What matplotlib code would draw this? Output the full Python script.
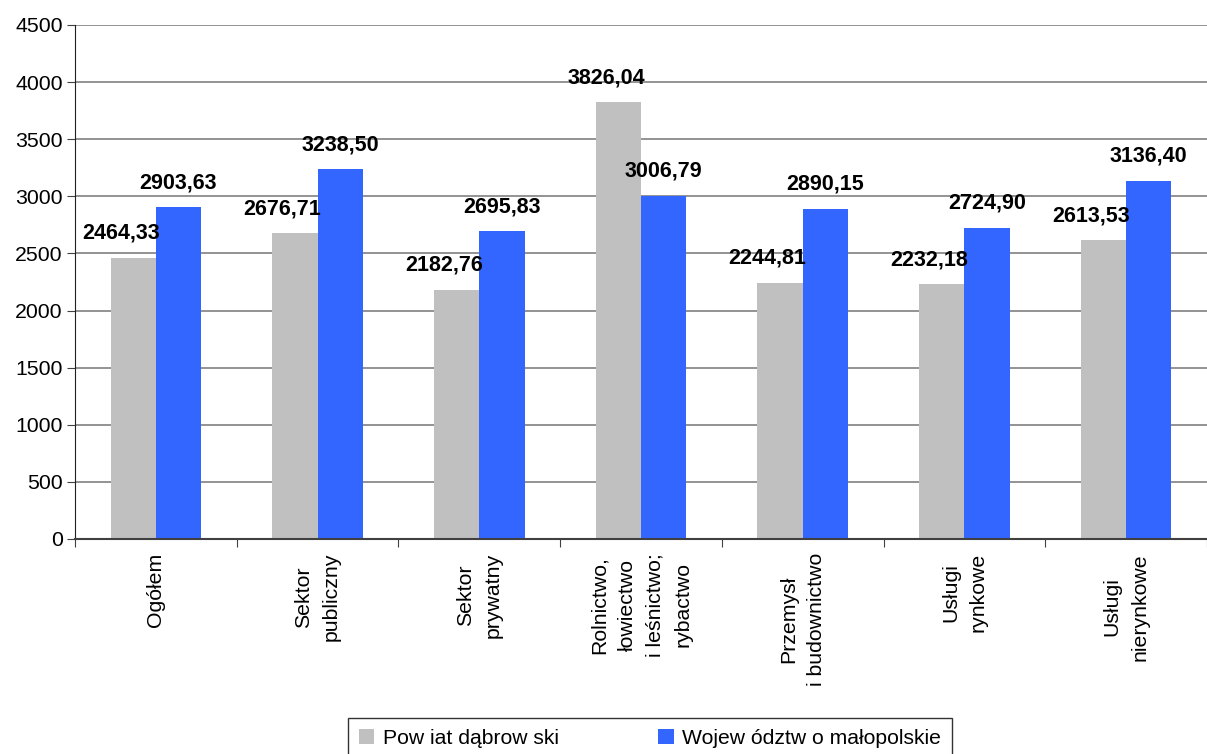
import numpy as np
import matplotlib
matplotlib.use('Agg')
import matplotlib.pyplot as plt

plt.rcParams['font.family'] = ['Liberation Sans', 'DejaVu Sans']

# data
categories = ['Ogółem', 'Sektor\npubliczny', 'Sektor\nprywatny',
              'Rolnictwo,\nłowiectwo\ni leśnictwo;\nrybactwo',
              'Przemysł\ni budownictwo', 'Usługi\nrynkowe', 'Usługi\nnierynkowe']
powiat = [2464.33, 2676.71, 2182.76, 3826.04, 2244.81, 2232.18, 2613.53]
wojew = [2903.63, 3238.50, 2695.83, 3006.79, 2890.15, 2724.90, 3136.40]
series_names = ['Pow iat dąbrow ski', 'Wojew ództw o małopolskie']

fig = plt.figure(figsize=(12.07, 7.54), dpi=100)
ax = fig.add_axes([75 / 1207, 1 - 539 / 754, 1 - 75 / 1207, (539 - 25) / 754])

x = np.arange(len(categories))
w = 0.28
b1 = ax.bar(x - w / 2, powiat, w, color='#C0C0C0', label=series_names[0], zorder=2)
b2 = ax.bar(x + w / 2, wojew, w, color='#3366FF', label=series_names[1], zorder=2)

def fmt(v):
    return f'{v:.2f}'.replace('.', ',')

for rect, v in zip(b1, powiat):
    ax.annotate(fmt(v), (rect.get_x() + rect.get_width() / 2, v),
                xytext=(-9, 10), textcoords='offset points',
                ha='center', va='bottom', fontsize=15.5, fontweight='bold')
for rect, v in zip(b2, wojew):
    ax.annotate(fmt(v), (rect.get_x() + rect.get_width() / 2, v),
                xytext=(0, 10), textcoords='offset points',
                ha='center', va='bottom', fontsize=15.5, fontweight='bold')

ax.set_ylim(0, 4500)
ax.set_yticks(np.arange(0, 4501, 500))
ax.set_xlim(-0.5, 6.445)
ax.yaxis.grid(True, color='#808080', lw=1.2, zorder=0)
ax.set_axisbelow(True)

# ticks between categories, labels at centres
ax.set_xticks(np.arange(-0.5, 7, 1))
ax.set_xticklabels([])
ax.set_xticks(x, minor=True)
ax.set_xticklabels(categories, minor=True, rotation=90, ha='center', va='top',
                   multialignment='center', fontsize=15.3, linespacing=1.6)
ax.tick_params(axis='x', which='minor', length=0, pad=10)
ax.tick_params(axis='x', which='major', length=6, color='#404040')
ax.tick_params(axis='y', length=6, color='#404040', labelsize=15.3, pad=3)

for s in ['top', 'right']:
    ax.spines[s].set_visible(False)
ax.spines['left'].set_color('#202020')
ax.spines['bottom'].set_color('#404040')
ax.spines['bottom'].set_linewidth(1.5)

leg = fig.legend(handles=[b1, b2], loc='upper left', ncol=2,
                 bbox_to_anchor=(348 / 1207, 1 - 718 / 754),
                 fontsize=15.2, frameon=True, fancybox=False, edgecolor='black',
                 handlelength=0.75, handleheight=0.75, handletextpad=0.4,
                 columnspacing=4.7, borderpad=0.5, borderaxespad=0)
leg.get_frame().set_linewidth(1)

fig.savefig('out.png', dpi=100)
